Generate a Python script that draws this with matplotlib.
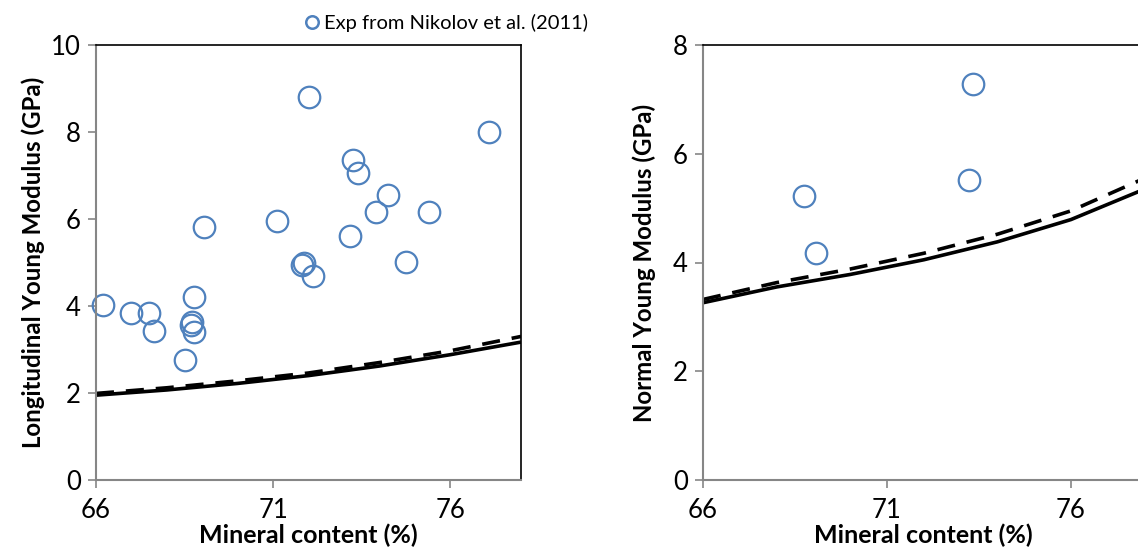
import matplotlib
matplotlib.use("Agg")
import matplotlib.pyplot as plt
import numpy as np
from matplotlib.lines import Line2D

plt.rcParams['font.family'] = ['Lato', 'DejaVu Sans']

# ---- data ----
model_x = [66, 68, 70, 72, 74, 76, 78]
long_solid = [1.95, 2.07, 2.22, 2.40, 2.62, 2.88, 3.17]
long_dashed = [1.99, 2.12, 2.28, 2.46, 2.70, 2.97, 3.30]
exp_long_x = [66.2, 67.0, 67.5, 67.65, 68.5, 68.78, 68.72, 68.68, 68.78, 69.05,
              71.1, 71.83, 71.87, 72.13, 72.0, 73.17, 73.25, 73.4, 73.9, 74.24,
              74.74, 75.4, 77.1]
exp_long_y = [4.02, 3.84, 3.84, 3.43, 2.75, 4.21, 3.64, 3.57, 3.40, 5.82,
              5.95, 4.94, 5.00, 4.69, 8.80, 5.60, 7.36, 7.05, 6.16, 6.55,
              5.02, 6.16, 8.00]

norm_solid = [3.26, 3.55, 3.78, 4.05, 4.38, 4.79, 5.35]
norm_dashed = [3.32, 3.63, 3.88, 4.17, 4.52, 4.95, 5.55]
exp_norm_x = [68.75, 69.06, 73.35, 73.24]
exp_norm_y = [5.23, 4.18, 7.29, 5.51]

xticks = [66, 71, 76]
legend_label = "Exp from Nikolov et al. (2011)"

W, H = 1138, 549
fig = plt.figure(figsize=(W / 100, H / 100), dpi=100)

blue = '#4F81BD'
gray = '#868686'


def style(ax, ymax):
    ax.set_xlim(66, 78)
    ax.set_ylim(0, ymax)
    ax.set_xticks(xticks)
    ax.set_yticks(np.arange(0, ymax + 0.1, 2))
    for s in ['left', 'bottom']:
        ax.spines[s].set_color(gray)
        ax.spines[s].set_linewidth(1.5)
    for s in ['top', 'right']:
        ax.spines[s].set_color('black')
        ax.spines[s].set_linewidth(1.2)
    ax.tick_params(axis='both', direction='out', length=6, width=1.2,
                   color=gray, labelsize=18.5, labelcolor='black', pad=5)
    ax.tick_params(axis='x', pad=7)
    ax.set_xlabel('Mineral content (%)', fontsize=18, fontweight='bold',
                  labelpad=0)


ax1 = fig.add_axes([96 / W, 69 / H, 425 / W, 435 / H])
style(ax1, 10)
ax1.plot(model_x, long_solid, color='black', lw=2.6, solid_capstyle='butt')
ax1.plot(model_x, long_dashed, color='black', lw=2.6, dashes=(5, 3.3))
ax1.plot(exp_long_x, exp_long_y, linestyle='none', marker='o', ms=15.5,
         mfc='none', mec=blue, mew=1.6, clip_on=False)
ax1.set_ylabel('Longitudinal Young Modulus (GPa)', fontsize=17.3,
               fontweight='bold', labelpad=4)

ax2 = fig.add_axes([703 / W, 69 / H, 441.6 / W, 435 / H])
style(ax2, 8)
ax2.plot(model_x, norm_solid, color='black', lw=2.6)
ax2.plot(model_x, norm_dashed, color='black', lw=2.6, dashes=(5, 3.3))
ax2.plot(exp_norm_x, exp_norm_y, linestyle='none', marker='o', ms=15.5,
         mfc='none', mec=blue, mew=1.6)
ax2.set_ylabel('Normal Young Modulus (GPa)', fontsize=17.3,
               fontweight='bold', labelpad=12)

handle = Line2D([], [], linestyle='none', marker='o', ms=9, mfc='none',
                mec=blue, mew=1.8)
fig.legend(handles=[handle], labels=[legend_label], loc='center left',
           bbox_to_anchor=(306 / W, 1 - 23 / H), frameon=False,
           fontsize=14.5, handlelength=0.6, handletextpad=0.3,
           borderaxespad=0, borderpad=0)

fig.savefig('out.png', dpi=100)
